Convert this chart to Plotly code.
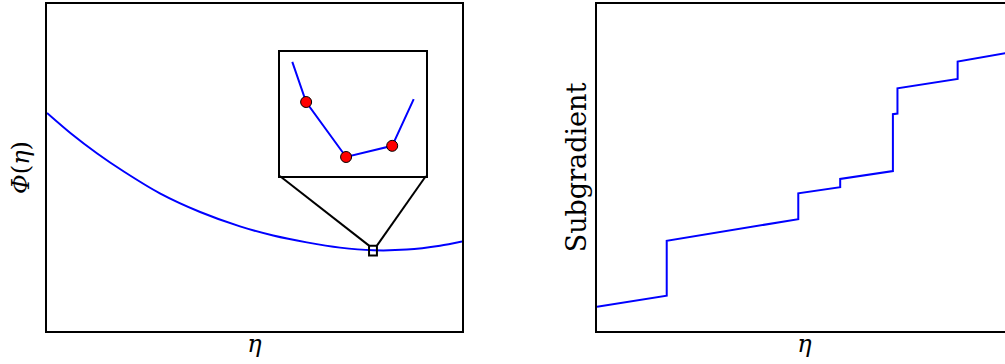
import plotly.graph_objects as go

# Left panel: objective Phi(eta)
eta_left = [0.0, 0.057, 0.121, 0.186, 0.272, 0.369, 0.465, 0.545, 0.626, 0.706, 0.786, 0.867, 0.947, 1.0]
phi_left = [0.667, 0.605, 0.543, 0.487, 0.421, 0.364, 0.320, 0.292, 0.271, 0.255, 0.247, 0.249, 0.261, 0.274]

# Inset (zoom of the minimum)
eta_inset = [0.7776, 0.7794, 0.7846, 0.7906, 0.7934]
phi_inset = [0.2586, 0.2489, 0.2356, 0.2383, 0.2496]
eta_pts = [0.7794, 0.7846, 0.7906]
phi_pts = [0.2489, 0.2356, 0.2383]
zoom_x = [0.776, 0.795]
zoom_y = [0.231, 0.261]
inset_corner_y = 0.474
inset_corner_x = [0.561, 0.913]

# Right panel: subgradient step function
eta_right = [0.0, 0.168, 0.168, 0.485, 0.485, 0.586, 0.586, 0.713, 0.713, 0.724, 0.724, 0.869, 0.869, 1.0]
sub_right = [0.074, 0.108, 0.276, 0.342, 0.421, 0.440, 0.465, 0.489, 0.663, 0.665, 0.742, 0.771, 0.824, 0.853]

W, H = 1020, 364
BLUE = "#0000ff"
SERIF = "DejaVu Serif"

fig = go.Figure()
fig.add_trace(go.Scatter(x=eta_left, y=phi_left, mode="lines", line=dict(color=BLUE, width=2, shape="spline", smoothing=0.8),
                         xaxis="x", yaxis="y", showlegend=False, hoverinfo="skip"))
fig.add_trace(go.Scatter(x=eta_right, y=sub_right, mode="lines", line=dict(color=BLUE, width=2),
                         xaxis="x2", yaxis="y2", showlegend=False, hoverinfo="skip"))
fig.add_trace(go.Scatter(x=eta_inset, y=phi_inset, mode="lines", line=dict(color=BLUE, width=2),
                         xaxis="x3", yaxis="y3", showlegend=False, hoverinfo="skip"))
fig.add_trace(go.Scatter(x=eta_pts, y=phi_pts, mode="markers",
                         marker=dict(color="#ff0000", size=11, line=dict(color="black", width=1)),
                         xaxis="x3", yaxis="y3", showlegend=False, hoverinfo="skip"))

# zoom square and connectors
fig.add_shape(type="rect", xref="x", yref="y", x0=zoom_x[0], x1=zoom_x[1], y0=zoom_y[0], y1=zoom_y[1],
              line=dict(color="black", width=2), layer="above")
fig.add_shape(type="line", xref="x", yref="y", x0=inset_corner_x[0], y0=inset_corner_y, x1=zoom_x[0], y1=zoom_y[1],
              line=dict(color="black", width=2))
fig.add_shape(type="line", xref="x", yref="y", x0=inset_corner_x[1], y0=inset_corner_y, x1=zoom_x[1], y1=zoom_y[1],
              line=dict(color="black", width=2))

def ax(**kw):
    d = dict(showgrid=False, zeroline=False, showticklabels=False, ticks="", automargin=False,
             showline=True, linecolor="black", linewidth=2, mirror=True, fixedrange=True)
    d.update(kw)
    return d

title_font = dict(family=SERIF, size=24, color="black")

fig.update_layout(
    width=W, height=H,
    margin=dict(l=0, r=0, t=0, b=0),
    paper_bgcolor="white", plot_bgcolor="white",
    hovermode=False,
    xaxis=ax(domain=[47 / W, 462 / W], range=[0, 1],
             title=dict(text="<i>η</i>", font=title_font, standoff=3)),
    yaxis=ax(domain=[(H - 331) / H, (H - 4) / H], range=[0, 1],
             title=dict(text="<i>Φ</i>(<i>η</i>)", font=title_font, standoff=9)),
    xaxis2=ax(domain=[597 / W, 1012 / W], range=[0, 1], anchor="y2",
              title=dict(text="<i>η</i>", font=title_font, standoff=3)),
    yaxis2=ax(domain=[(H - 331) / H, (H - 4) / H], range=[0, 1], anchor="x2",
              title=dict(text="Subgradient", font=dict(family=SERIF, size=27, color="black"), standoff=1)),
    xaxis3=ax(domain=[280 / W, 426 / W], range=[zoom_x[0], zoom_x[1]], anchor="y3"),
    yaxis3=ax(domain=[(H - 176) / H, (H - 52) / H], range=[zoom_y[0], zoom_y[1]], anchor="x3"),
)

fig.write_html("out.html", config={"displayModeBar": False, "staticPlot": True},
               post_script="document.body.style.margin='0px';document.body.style.overflow='hidden';")
